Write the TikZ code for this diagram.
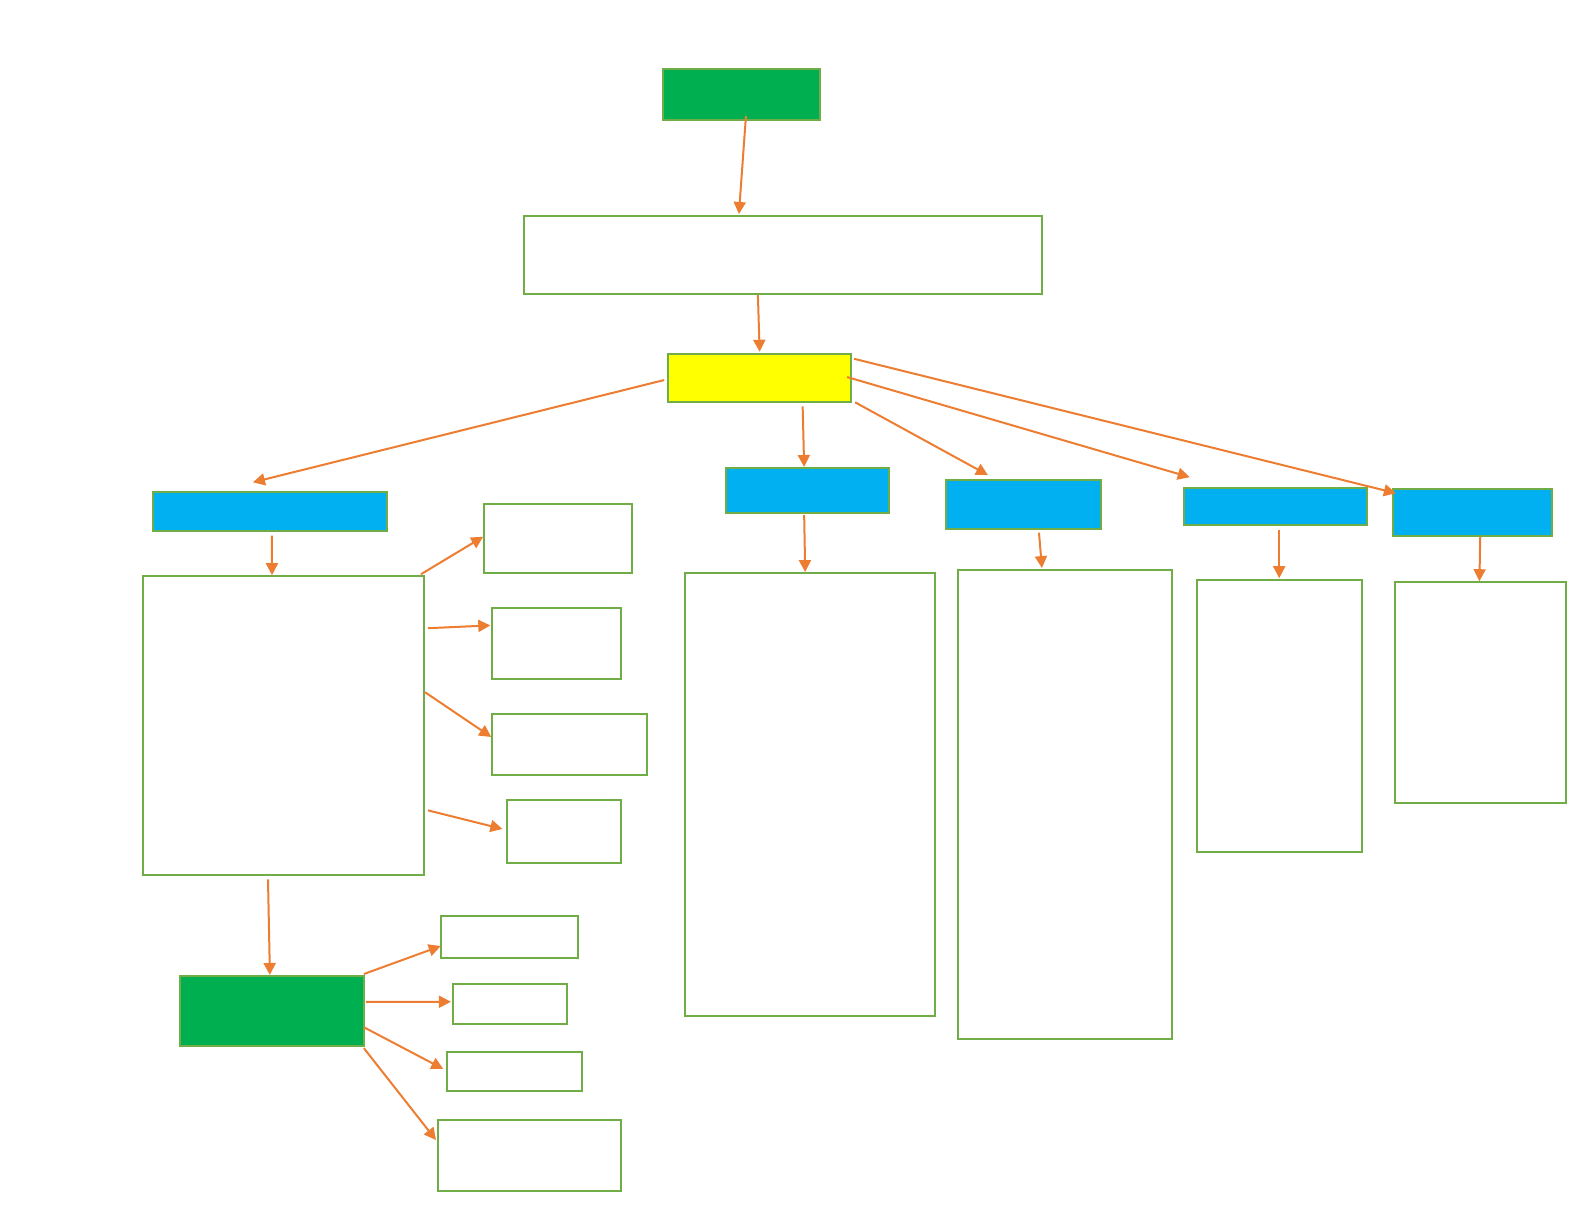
\documentclass[tikz,border=0pt]{standalone}
\usetikzlibrary{arrows.meta}
\definecolor{bgreen}{HTML}{70AD47}
\definecolor{fgreen}{HTML}{00B050}
\definecolor{fblue}{HTML}{00B0F0}
\definecolor{fyellow}{HTML}{FFFF00}
\definecolor{aorange}{HTML}{ED7D31}
\tikzset{
  box/.style={draw=bgreen, line width=2pt, fill=white, inner sep=0pt, outer sep=0pt, anchor=north west},
  greenbox/.style={box, fill=fgreen},
  bluebox/.style={box, fill=fblue},
  yellowbox/.style={box, fill=fyellow},
  arr/.style={draw=aorange, line width=2pt, -{Triangle[length=12pt,width=12pt]}}
}
\newcommand{\bx}[6]{\node[#1, minimum width=#5-#3, minimum height=#6-#4] (#2) at (#3,#4) {};}
\begin{document}
\begin{tikzpicture}[x=1pt,y=-1pt]
\useasboundingbox (0,0) rectangle (1585,1225);
% boxes
\bx{greenbox}{top}{663.1}{68.7}{819.8}{120.3}
\bx{box}{wide}{523.6}{216.3}{1042.2}{294.2}
\bx{yellowbox}{yel}{668.2}{353.8}{851.1}{402.3}
\bx{bluebox}{b1}{152.6}{492.3}{387.2}{530.7}
\bx{bluebox}{b2}{725.8}{468}{888.5}{512.5}
\bx{bluebox}{b3}{946.2}{480.1}{1100.8}{528.7}
\bx{bluebox}{b4}{1183.7}{488.2}{1366.7}{524.6}
\bx{bluebox}{b5}{1392.9}{489.2}{1551.6}{535.7}
\bx{box}{big}{142.5}{576.2}{423.5}{875.4}
\bx{box}{s1}{484.2}{504.4}{631.8}{573.1}
\bx{box}{s2}{492.3}{607.5}{620.7}{679.3}
\bx{box}{s3}{492.3}{713.7}{646.9}{775.3}
\bx{box}{s4}{507.4}{799.6}{620.7}{863.3}
\bx{greenbox}{g2}{179.9}{975.5}{363.9}{1046.2}
\bx{box}{t1}{440.7}{915.8}{578.2}{958.3}
\bx{box}{t2}{452.9}{983.5}{567.1}{1024}
\bx{box}{t3}{446.8}{1052.3}{582.2}{1090.7}
\bx{box}{t4}{437.7}{1120}{620.7}{1190.8}
\bx{box}{c2}{685.4}{573.1}{935}{1015.9}
\bx{box}{c3}{958.3}{570.1}{1171.6}{1039.1}
\bx{box}{c4}{1196.8}{580.2}{1361.6}{852.1}
\bx{box}{c5}{1395}{582.2}{1565.8}{802.6}
% connectors
\draw[arr] ([xshift=4.5pt,yshift=4.3pt]top.south) -- ([xshift=-44pt,yshift=2.3pt]wide.north);
\draw[arr] ([xshift=-25pt,yshift=-1pt]wide.south) -- ([yshift=2pt]yel.north);
\draw[arr] ([xshift=-4pt,yshift=-2pt]yel.west) -- ([xshift=-17pt,yshift=10pt]b1.north);
\draw[arr] ([xshift=43pt,yshift=-4pt]yel.south) -- ([xshift=-3pt,yshift=1pt]b2.north);
\draw[arr] ([xshift=4pt]yel.south east) -- ([xshift=-35.5pt,yshift=5pt]b3.north);
\draw[arr] ([xshift=-4pt,yshift=1pt]yel.east) -- ([xshift=6pt,yshift=11pt]b4.north west);
\draw[arr] ([xshift=3pt,yshift=-5pt]yel.north east) -- ([xshift=3pt,yshift=-4pt]b5.north west);
\draw[arr] ([xshift=2pt,yshift=-5pt]b1.south) -- ([xshift=-11pt,yshift=1pt]big.north);
\draw[arr] ([xshift=-3pt,yshift=-2.5pt]b2.south) -- ([xshift=-5pt,yshift=1pt]c2.north);
\draw[arr] ([xshift=15.5pt,yshift=-4pt]b3.south) -- ([xshift=-23pt,yshift=2pt]c3.north);
\draw[arr] ([xshift=4pt,yshift=-5pt]b4.south) -- ([yshift=2pt]c4.north);
\draw[arr] ([xshift=8pt,yshift=-1pt]b5.south) -- ([xshift=-1pt,yshift=1pt]c5.north);
\draw[arr] ([xshift=-2.5pt,yshift=2pt]big.north east) -- ([xshift=-1pt,yshift=2pt]s1.west);
\draw[arr] ([xshift=4.5pt,yshift=-52pt]big.north east) -- ([xshift=-2pt,yshift=18pt]s2.west);
\draw[arr] ([xshift=1.5pt,yshift=-116pt]big.north east) -- ([xshift=-1pt,yshift=7.5pt]s3.west);
\draw[arr] ([xshift=4.5pt,yshift=65pt]big.south east) -- ([xshift=-5pt,yshift=2.5pt]s4.west);
\draw[arr] ([xshift=-15pt,yshift=-4pt]big.south) -- ([xshift=-2pt,yshift=0.5pt]g2.north);
\draw[arr] ([yshift=1.5pt]g2.north east) -- ([yshift=-9pt]t1.west);
\draw[arr] ([xshift=2pt,yshift=9pt]g2.east) -- ([xshift=-2pt,yshift=2pt]t2.west);
\draw[arr] ([yshift=-16.4pt]g2.east) -- ([xshift=-3.5pt,yshift=2.5pt]t3.west);
\draw[arr] ([yshift=-2pt]g2.south east) -- ([xshift=-1.7pt,yshift=15.4pt]t4.west);
\end{tikzpicture}
\end{document}
